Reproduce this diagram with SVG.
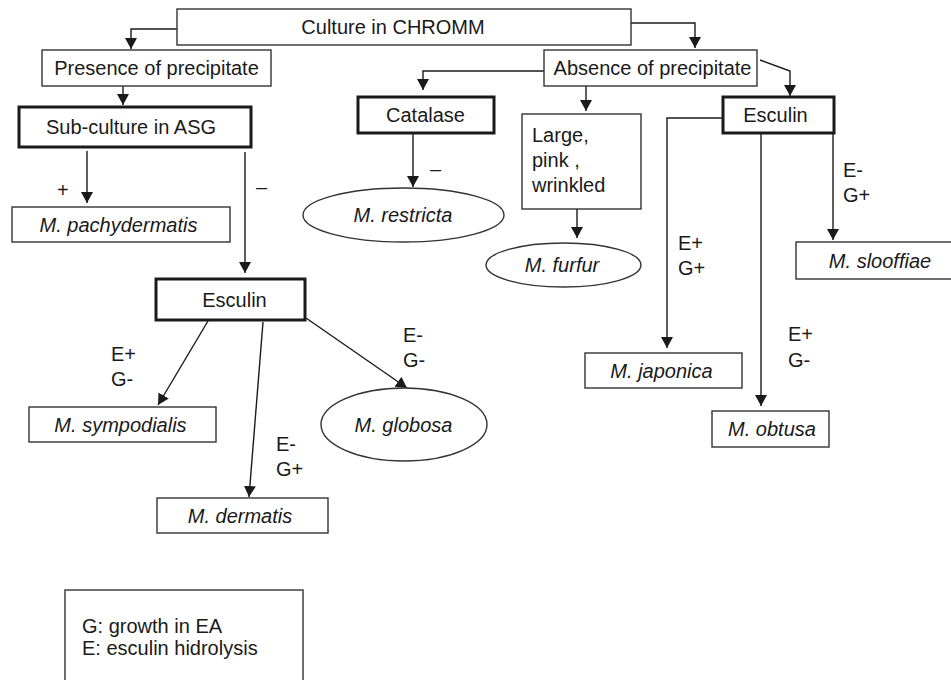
<svg xmlns="http://www.w3.org/2000/svg" width="951" height="680" viewBox="0 0 951 680">
<defs>
<marker id="ah" markerUnits="userSpaceOnUse" markerWidth="12" markerHeight="12" refX="11" refY="6" orient="auto">
<path d="M0,0 L11,6 L0,12 z" fill="#1a1a1a"/>
</marker>
<style>
text{font-family:"Liberation Sans",Arial,sans-serif;font-size:20px;fill:#1a1a1a}
.m{text-anchor:middle}
.i{font-style:italic}
.b{fill:#fff;stroke:#333;stroke-width:1.4}
.t{fill:#fff;stroke:#1a1a1a;stroke-width:3}
.c{fill:none;stroke:#1a1a1a;stroke-width:1.4;marker-end:url(#ah)}
</style>
</defs>
<rect width="951" height="680" fill="#fff"/>
<g id="connectors">
<polyline class="c" points="177,29 131,29 131,49"/>
<polyline class="c" points="631,23 695,23 695,48"/>
<polyline class="c" points="123,86 123,105"/>
<polyline class="c" points="544,71 423,71 423,90"/>
<polyline class="c" points="586,86 586,111"/>
<polyline class="c" points="760,60 790,71 790,96"/>
<polyline class="c" points="87,151 87,203"/>
<polyline class="c" points="245,152 245,273"/>
<polyline class="c" points="413,133 413,187"/>
<polyline class="c" points="577,209 577,238"/>
<polyline class="c" points="208,321 158,405"/>
<polyline class="c" points="263,322 249,497"/>
<polyline class="c" points="306,318 407,388"/>
<polyline class="c" points="723,118 667,118 667,348"/>
<polyline class="c" points="761,133 761,406"/>
<polyline class="c" points="833,133 833,240"/>
</g>
<g id="culture"><rect class="b" x="177" y="9" width="454" height="36"/><text class="m" x="393" y="34">Culture in CHROMM</text></g>
<g id="presence"><rect class="b" x="42" y="50" width="229" height="36"/><text class="m" x="156.5" y="75">Presence of precipitate</text></g>
<g id="absence"><rect class="b" x="544" y="50" width="213" height="36"/><text class="m" x="652.5" y="75">Absence of precipitate</text></g>
<g id="subculture"><rect class="t" x="19" y="107" width="232" height="40"/><text class="m" x="131" y="134">Sub-culture in ASG</text></g>
<g id="catalase"><rect class="t" x="358" y="97" width="136" height="36"/><text class="m" x="425.5" y="122">Catalase</text></g>
<g id="large"><rect class="b" x="522" y="114" width="119" height="95"/><text x="532" y="142">Large,</text><text x="532" y="167">pink ,</text><text x="532" y="192">wrinkled</text></g>
<g id="esculin-right"><rect class="t" x="723" y="97" width="111" height="36"/><text class="m" x="775.5" y="122">Esculin</text></g>
<g id="esculin-left"><rect class="t" x="156" y="279" width="149" height="41"/><text class="m" x="234.5" y="307">Esculin</text></g>
<g id="pachydermatis"><rect class="b" x="12" y="207" width="218" height="35"/><text class="m i" x="118.5" y="232">M. pachydermatis</text></g>
<g id="restricta"><ellipse class="b" cx="403.5" cy="215" rx="100.5" ry="27"/><text class="m i" x="403" y="222">M. restricta</text></g>
<g id="furfur"><ellipse class="b" cx="563.5" cy="265" rx="77.5" ry="22"/><text class="m i" x="562" y="272">M. furfur</text></g>
<g id="slooffiae"><rect class="b" x="796" y="242" width="160" height="37"/><text class="m i" x="880" y="268">M. slooffiae</text></g>
<g id="japonica"><rect class="b" x="585" y="353" width="157" height="35"/><text class="m i" x="661.5" y="378">M. japonica</text></g>
<g id="obtusa"><rect class="b" x="712" y="411" width="117" height="36"/><text class="m i" x="772" y="436">M. obtusa</text></g>
<g id="sympodialis"><rect class="b" x="29" y="407" width="187" height="35"/><text class="m i" x="120.5" y="432">M. sympodialis</text></g>
<g id="globosa"><ellipse class="b" cx="404" cy="424.5" rx="83" ry="36.5"/><text class="m i" x="403.5" y="432">M. globosa</text></g>
<g id="dermatis"><rect class="b" x="157" y="498" width="171" height="35"/><text class="m i" x="240" y="523">M. dermatis</text></g>
<g id="labels">
<text x="57" y="197">+</text>
<text x="256" y="194">–</text>
<text x="430" y="176">–</text>
<text x="111" y="361">E+</text><text x="111" y="386">G-</text>
<text x="403" y="342">E-</text><text x="403" y="367">G-</text>
<text x="276" y="451">E-</text><text x="276" y="476">G+</text>
<text x="843" y="177">E-</text><text x="843" y="202">G+</text>
<text x="678" y="250">E+</text><text x="678" y="275">G+</text>
<text x="788" y="341">E+</text><text x="788" y="367">G-</text>
</g>
<g id="legend"><rect class="b" x="65" y="590" width="238" height="110"/><text x="82" y="633">G: growth in EA</text><text x="82" y="655">E: esculin hidrolysis</text></g>
</svg>
